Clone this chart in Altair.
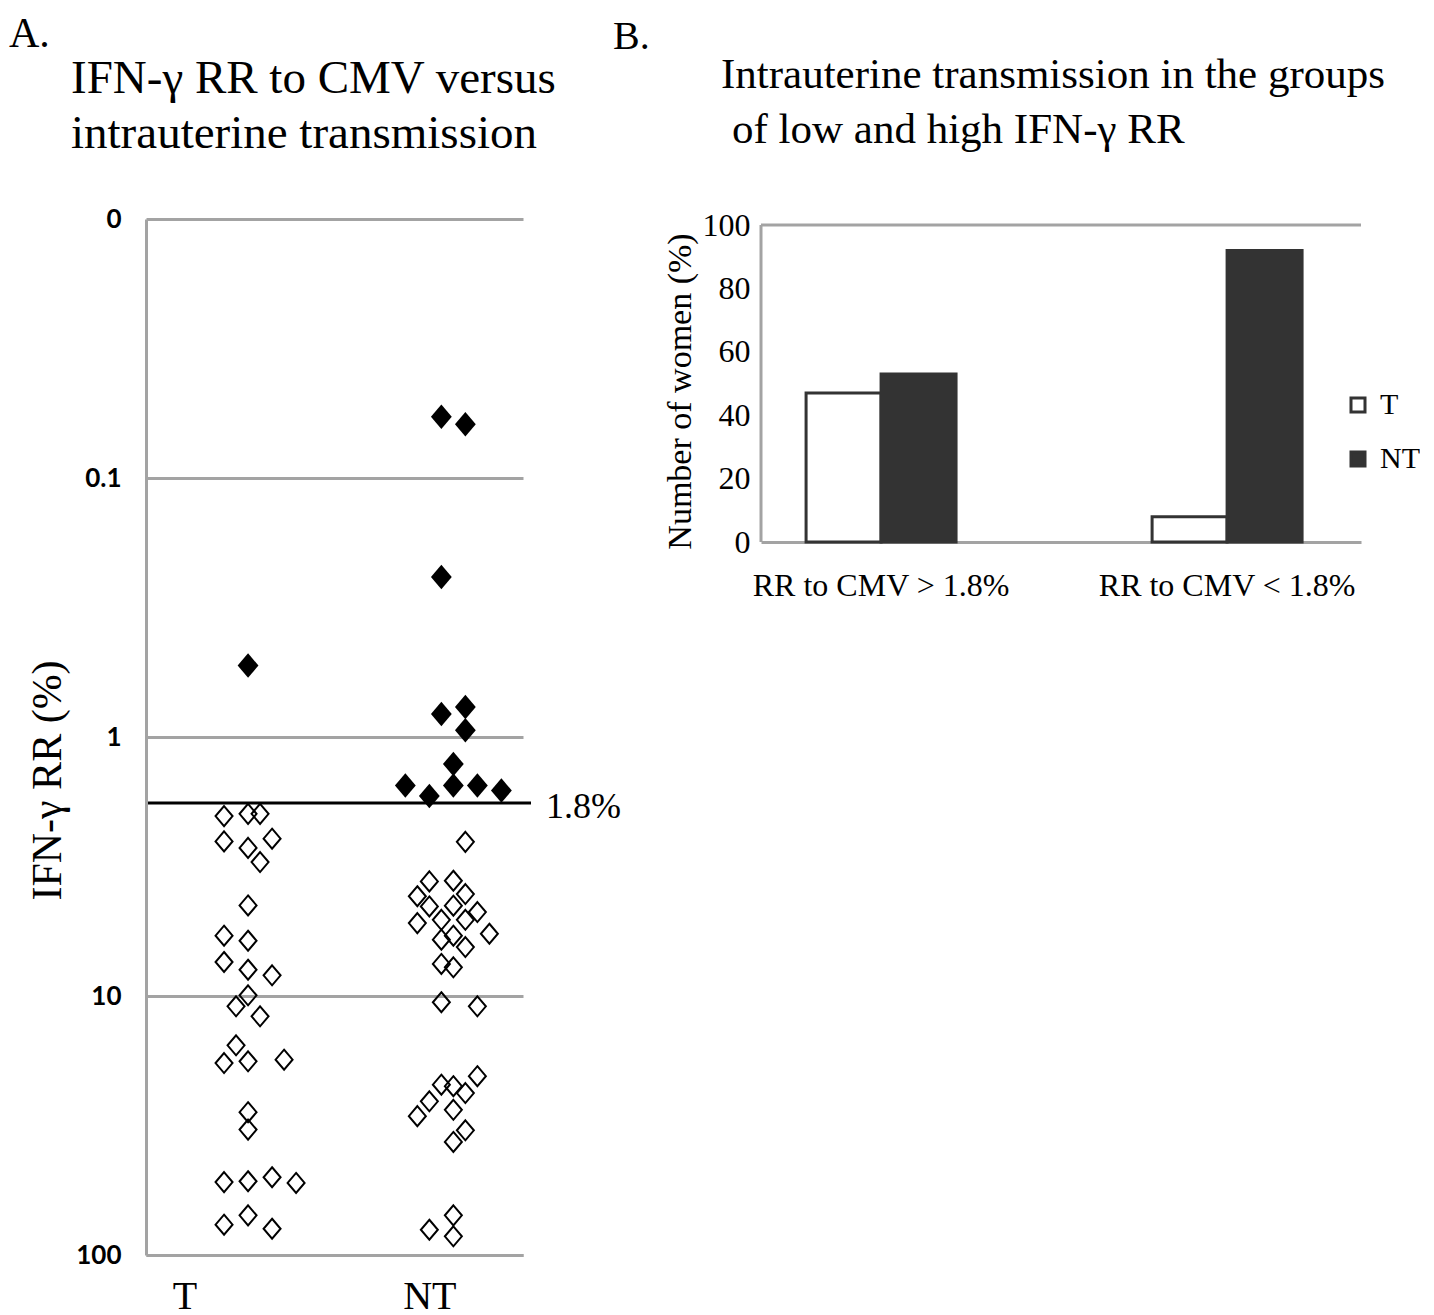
import altair as alt
import pandas as pd

SERIF = "Liberation Serif"
GRAY = "#a3a3a3"
DARK = "#333333"
DIAMOND = "M0,-1L0.85,0L0,1L-0.85,0Z"

# ---------------- Panel A data (IFN-gamma RR, %) ----------------
t_open_vals = [2.02, 1.98, 1.98, 2.53, 2.68, 2.47, 3.04, 4.47, 5.85, 6.12,
               7.39, 7.92, 8.32, 9.94, 10.96, 11.98, 15.5, 18.15, 17.87, 17.62,
               28.1, 32.8, 52.3, 51.9, 50.1, 52.7, 76.4, 70.3, 79.2]
t_open_steps = [-2, 0, 1, -2, 0, 2, 1, 0, -2, 0,
                -2, 0, 2, 0, -1, 1, -1, -2, 0, 3,
                0, 0, -2, 0, 2, 4, -2, 0, 2]
t_filled_vals = [0.53]
t_filled_steps = [0]

nt_open_vals = [2.54, 3.61, 3.59, 4.12, 4.04, 4.51, 4.48, 4.74, 5.23, 5.08,
                5.08, 5.75, 6.06, 5.85, 6.47, 7.52, 7.75, 10.57, 10.96, 20.4,
                22.0, 22.3, 23.7, 25.5, 27.5, 29.1, 33.0, 36.6, 70.3, 79.9, 84.7]
nt_open_steps = [1, -2, 0, -3, 1, -2, 0, 2, -3, -1,
                 1, 3, -1, 0, 1, -1, 0, -1, 2, 2,
                 -1, 0, 1, -2, 0, -3, 1, 0, 0, -2, 0]
nt_filled_vals = [0.058, 0.062, 0.241, 0.815, 0.766, 0.942, 1.27, 1.54, 1.69, 1.54, 1.54, 1.61]
nt_filled_steps = [-1, 1, -1, -1, 1, 1, 0, -4, -2, 0, 2, 4]

group_center = {"T": 8.5, "NT": 25.6}
group_label_pos = [3.2, 23.6]
threshold = 1.8

rows = []
for g, vals, steps, filled in [("T", t_open_vals, t_open_steps, False),
                               ("T", t_filled_vals, t_filled_steps, True),
                               ("NT", nt_open_vals, nt_open_steps, False),
                               ("NT", nt_filled_vals, nt_filled_steps, True)]:
    for v, s in zip(vals, steps):
        rows.append({"group": g, "rr": v, "pos": group_center[g] + s, "filled": filled})
dfA = pd.DataFrame(rows)

xA = alt.X("pos:Q", scale=alt.Scale(domain=[0, 31.4], nice=False, zero=False),
           axis=alt.Axis(values=group_label_pos,
                         labelExpr="datum.value < 10 ? 'T' : 'NT'",
                         title=None, grid=False, ticks=False, labelFlush=False,
                         domainColor=GRAY, domainWidth=3,
                         labelFont=SERIF, labelFontSize=40, labelColor="black",
                         labelPadding=21))
yA = alt.Y("rr:Q",
           scale=alt.Scale(type="log", domain=[0.01, 100], reverse=True, nice=False),
           axis=alt.Axis(values=[0.01, 0.1, 1, 10, 100],
                         labelExpr="datum.value < 0.05 ? '0' : (datum.value < 0.5 ? '0.1' : format(datum.value, 'd'))",
                         grid=True, gridColor=GRAY, gridWidth=3, gridOpacity=1,
                         domainColor=GRAY, domainWidth=3, ticks=False, labelFlush=False,
                         labelFont="Lato", labelFontWeight="bold", labelFontSize=26,
                         labelColor="black", labelPadding=25,
                         title="IFN-γ RR (%)", titleFont=SERIF, titleFontSize=42,
                         titleFontWeight="normal", titleColor="black",
                         titleX=-77, titleY=561))

open_pts = alt.Chart(dfA).transform_filter("!datum.filled").mark_point(
    shape=DIAMOND, size=400, filled=False, stroke="black", strokeWidth=2, opacity=1
).encode(x=xA, y=yA)

filled_pts = alt.Chart(dfA).transform_filter("datum.filled").mark_point(
    shape=DIAMOND, size=600, filled=True, color="black", opacity=1
).encode(x="pos:Q", y="rr:Q")

thr_df = pd.DataFrame({"rr": [threshold], "label": ["1.8%"]})
thr_rule = alt.Chart(thr_df).mark_rule(color="black", strokeWidth=3).encode(
    y="rr:Q", x=alt.value(2), x2=alt.value(385))
thr_text = alt.Chart(thr_df).mark_text(
    align="left", baseline="middle", dy=4, font=SERIF, fontSize=36, color="black"
).encode(y="rr:Q", x=alt.value(400), text="label:N")


def text_at(txt, x, y, size, align="left"):
    return alt.Chart(pd.DataFrame({"txt": [txt]})).mark_text(
        align=align, baseline="alphabetic", font=SERIF, fontSize=size, color="black"
    ).encode(x=alt.value(x), y=alt.value(y), text="txt:N")


titleA = (text_at("A.", -137, -172, 42)
          + text_at("IFN-γ RR to CMV versus", -75, -126, 47)
          + text_at("intrauterine transmission", -75, -71, 47)
          + text_at("B.", 467, -170, 40))

panelA = alt.layer(open_pts, filled_pts, thr_rule, thr_text, titleA).properties(
    width=377, height=1036)

# ---------------- Panel B data (% of women) ----------------
groups = ["RR to CMV > 1.8%", "RR to CMV < 1.8%"]
series = ["T", "NT"]
t_pct = [47, 8]
nt_pct = [53, 92]

dfB = pd.DataFrame({
    "group": groups + groups,
    "series": ["T"] * 2 + ["NT"] * 2,
    "pct": t_pct + nt_pct,
})

bars = alt.Chart(dfB).mark_bar(stroke=DARK, strokeWidth=3).encode(
    x=alt.X("group:N", sort=groups,
            scale=alt.Scale(paddingInner=0.466, paddingOuter=0.1, align=0.4),
            axis=alt.Axis(title=None, labelAngle=0, ticks=False, labelLimit=0,
                          domainColor=GRAY, domainWidth=3,
                          labelFont=SERIF, labelFontSize=32, labelColor="black",
                          labelPadding=28)),
    xOffset=alt.XOffset("series:N", sort=series,
                        scale=alt.Scale(paddingOuter=0.232, paddingInner=0)),
    y=alt.Y("pct:Q", scale=alt.Scale(domain=[0, 101.9], nice=False),
            axis=alt.Axis(values=[0, 20, 40, 60, 80, 100], grid=False, domain=False,
                          ticks=False, labelFont=SERIF, labelFontSize=32,
                          labelColor="black", labelPadding=11,
                          title="Number of women (%)", titleFont=SERIF,
                          titleFontSize=34, titleFontWeight="normal",
                          titleColor="black", titleX=-64, titleY=172)),
    fill=alt.Fill("series:N", sort=series,
                  scale=alt.Scale(domain=series, range=["white", DARK]),
                  legend=alt.Legend(title=None, orient="none", legendX=1197, legendY=171,
                                    symbolType="square", symbolSize=196,
                                    symbolStrokeColor=DARK, symbolStrokeWidth=3,
                                    labelFont=SERIF, labelFontSize=30, labelColor="black",
                                    labelOffset=7, rowPadding=24, padding=0)),
)

top_line = alt.Chart(pd.DataFrame({"pct": [100]})).mark_rule(color=GRAY, strokeWidth=3).encode(
    y="pct:Q", x=alt.value(0), x2=alt.value(600))
y_line = alt.Chart(pd.DataFrame({"pct": [0], "pct2": [100]})).mark_rule(color=GRAY, strokeWidth=3).encode(
    y="pct:Q", y2="pct2:Q", x=alt.value(0))

titleB = (text_at("Intrauterine transmission in the groups", -40, -131, 43)
          + text_at("of low and high IFN-γ RR", -29, -76, 43))

panelB = alt.layer(bars, top_line, y_line, titleB).properties(width=600, height=323)

chart = alt.hconcat(panelA, panelB, spacing=238, bounds="flush").properties(
    padding={"left": 0, "top": 4, "right": 0, "bottom": 0}
).configure_view(stroke="transparent")

chart.save("out.html", embed_options={"renderer": "svg", "actions": False})
